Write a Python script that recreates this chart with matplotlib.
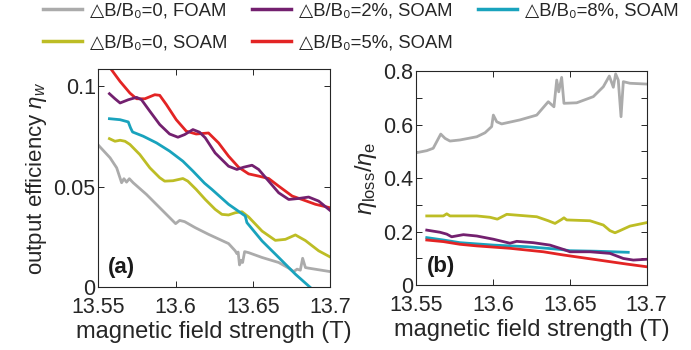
import matplotlib
matplotlib.use("Agg")
import matplotlib.pyplot as plt
from matplotlib.lines import Line2D
from matplotlib.ticker import MultipleLocator

plt.rcParams['font.family'] = ['Liberation Sans', 'DejaVu Sans']
plt.rcParams['mathtext.fontset'] = 'custom'
plt.rcParams['mathtext.rm'] = 'Liberation Sans'
plt.rcParams['mathtext.it'] = 'Liberation Sans:italic'
plt.rcParams['mathtext.bf'] = 'Liberation Sans:bold'

labels = ['△B/B₀=0, FOAM', '△B/B₀=2%, SOAM', '△B/B₀=8%, SOAM',
          '△B/B₀=0, SOAM', '△B/B₀=5%, SOAM']
colors = {'foam0': '#ababab', 'soam2': '#73206f', 'soam8': '#19a3bd',
          'soam0': '#bdbd25', 'soam5': '#e32424'}

# ---- panel (a): output efficiency ----
a_foam0_x = [13.55, 13.5575, 13.5618, 13.565, 13.5665, 13.5682, 13.570, 13.5725, 13.5811, 13.5897,
             13.5961, 13.600, 13.6026, 13.6058, 13.6127, 13.6213, 13.6343, 13.6386, 13.6397, 13.6405,
             13.6414, 13.6425, 13.6434, 13.6447, 13.6473, 13.656, 13.6668, 13.6733, 13.6765, 13.6787,
             13.6808, 13.6823, 13.6841, 13.6862, 13.70]
a_foam0_y = [0.0706, 0.0644, 0.0594, 0.052, 0.054, 0.0523, 0.054, 0.052, 0.0462, 0.0396,
             0.0347, 0.0317, 0.0333, 0.0327, 0.0297, 0.0264, 0.0218, 0.0182, 0.0168, 0.0176,
             0.0112, 0.0135, 0.0124, 0.0178, 0.0173, 0.0149, 0.0124, 0.0096, 0.0079, 0.0091,
             0.0086, 0.0145, 0.0099, 0.0096, 0.0079]

a_soam0_x = [13.5571, 13.5607, 13.564, 13.5672, 13.5704, 13.5768, 13.5833, 13.5897, 13.5929, 13.5983,
             13.6047, 13.6079, 13.6133, 13.6192, 13.6256, 13.630, 13.6343, 13.6386, 13.643, 13.6473,
             13.656, 13.6646, 13.6711, 13.6776, 13.6841, 13.6927, 13.70]
a_soam0_y = [0.0739, 0.0726, 0.0731, 0.0726, 0.071, 0.066, 0.0594, 0.0545, 0.0528, 0.0530,
             0.0541, 0.0528, 0.0487, 0.0437, 0.0388, 0.0363, 0.0360, 0.0371, 0.0376, 0.0350,
             0.028, 0.0234, 0.0239, 0.0261, 0.0233, 0.0182, 0.0152]

a_soam8_x = [13.5571, 13.564, 13.5693, 13.5708, 13.5721, 13.579, 13.5876, 13.5961, 13.6047, 13.6112,
             13.6187, 13.6235, 13.6343, 13.6451, 13.6462, 13.656, 13.6668, 13.6776, 13.6873]
a_soam8_y = [0.0838, 0.0833, 0.0822, 0.0792, 0.0772, 0.0751, 0.0718, 0.0677, 0.0627, 0.0578,
             0.0518, 0.0487, 0.0413, 0.0355, 0.0322, 0.0231, 0.0149, 0.0066, 0.0]

a_soam2_x = [13.5571, 13.5607, 13.564, 13.5693, 13.5747, 13.5779, 13.5833, 13.5897, 13.5961, 13.6015,
             13.6058, 13.6112, 13.6155, 13.6192, 13.6256, 13.6343, 13.6397, 13.644, 13.6495, 13.6538,
             13.6603, 13.6668, 13.6733, 13.6798, 13.6862, 13.6927, 13.70]
a_soam2_y = [0.0962, 0.0937, 0.0916, 0.0932, 0.0944, 0.0932, 0.0875, 0.0809, 0.0762, 0.0746,
             0.0759, 0.0784, 0.0771, 0.0743, 0.0668, 0.0602, 0.0586, 0.0597, 0.0607, 0.0586,
             0.0528, 0.047, 0.0437, 0.0442, 0.0449, 0.0429, 0.0383]

a_soam5_x = [13.5571, 13.564, 13.5704, 13.5747, 13.5801, 13.5865, 13.5897, 13.594, 13.6004, 13.6069,
             13.6133, 13.6213, 13.6278, 13.6343, 13.6408, 13.6473, 13.6538, 13.6603, 13.6668, 13.6755,
             13.6819, 13.6906, 13.70]
a_soam5_y = [0.1095, 0.1023, 0.0965, 0.0937, 0.0937, 0.0957, 0.0954, 0.0908, 0.0833, 0.0776,
             0.0762, 0.0767, 0.0718, 0.0652, 0.0597, 0.0564, 0.0553, 0.0541, 0.0503, 0.0454,
             0.0437, 0.0413, 0.0396]

# ---- panel (b): loss ratio ----
b_foam0_x = [13.55, 13.557, 13.5612, 13.5661, 13.5689, 13.5721, 13.5786, 13.5895, 13.5949, 13.5992,
             13.6003, 13.6025, 13.6057, 13.6176, 13.6285, 13.636, 13.6397, 13.6415, 13.6428, 13.6447,
             13.6462, 13.6545, 13.6653, 13.6718, 13.6757, 13.6783, 13.6798, 13.6815, 13.6833, 13.6848,
             13.6891, 13.70]
b_foam0_y = [0.495, 0.503, 0.512, 0.565, 0.549, 0.539, 0.543, 0.555, 0.57, 0.593,
             0.636, 0.611, 0.603, 0.618, 0.636, 0.686, 0.667, 0.767, 0.723, 0.777,
             0.68, 0.682, 0.705, 0.742, 0.782, 0.74, 0.79, 0.767, 0.63, 0.761,
             0.755, 0.752]

b_soam0_x = [13.557, 13.5678, 13.57, 13.5721, 13.5895, 13.5981, 13.6029, 13.609, 13.6176, 13.6285,
             13.636, 13.6404, 13.6447, 13.6462, 13.648, 13.6631, 13.6718, 13.6761, 13.6794, 13.6826,
             13.6891, 13.70]
b_soam0_y = [0.259, 0.259, 0.267, 0.259, 0.259, 0.254, 0.247, 0.265, 0.261, 0.256,
             0.241, 0.231, 0.246, 0.252, 0.244, 0.241, 0.225, 0.204, 0.196, 0.204,
             0.221, 0.234]

b_soam2_x = [13.557, 13.5656, 13.57, 13.5732, 13.5808, 13.5895, 13.6003, 13.6111, 13.6155, 13.6263,
             13.6371, 13.6458, 13.6501, 13.6631, 13.6761, 13.6848, 13.6913, 13.70]
b_soam2_y = [0.206, 0.198, 0.191, 0.181, 0.189, 0.184, 0.172, 0.157, 0.164, 0.159,
             0.150, 0.134, 0.125, 0.125, 0.119, 0.100, 0.094, 0.097]

b_soam8_x = [13.557, 13.5678, 13.5786, 13.6003, 13.622, 13.6436, 13.6501, 13.6675, 13.688]
b_soam8_y = [0.178, 0.169, 0.159, 0.150, 0.144, 0.134, 0.129, 0.127, 0.123]

b_soam5_x = [13.557, 13.5678, 13.5786, 13.5895, 13.6111, 13.6328, 13.6458, 13.6653, 13.687, 13.70]
b_soam5_y = [0.169, 0.163, 0.153, 0.147, 0.138, 0.125, 0.113, 0.097, 0.079, 0.069]

x_ticks = [13.55, 13.6, 13.65, 13.7]
x_ticklabels = ['13.55', '13.6', '13.65', '13.7']
a_yticks = [0, 0.05, 0.1]
a_yticklabels = ['0', '0.05', '0.1']
b_yticks = [0, 0.2, 0.4, 0.6, 0.8]
b_yticklabels = ['0', '0.2', '0.4', '0.6', '0.8']

TXT = '#262626'
LW = 2.0
TFS = 15.5

fig = plt.figure(figsize=(6.91, 3.5), dpi=100)
axa = fig.add_axes([0.1425, 0.1786, 0.335, 0.625])
axb = fig.add_axes([0.602, 0.1851, 0.3339, 0.6114])

def style(ax):
    for s in ax.spines.values():
        s.set_color(TXT)
        s.set_linewidth(0.8)
    ax.tick_params(direction='in', top=True, right=True, length=4, width=0.7,
                   colors=TXT, labelsize=TFS, pad=2)
    ax.tick_params(axis='x', pad=7)
    ax.tick_params(which='minor', direction='in', top=True, right=True, length=4, width=0.7, colors=TXT)
    ax.set_xlim(13.55, 13.7)
    ax.set_xticks(x_ticks)
    ax.set_xticklabels(x_ticklabels)
    ax.set_xlabel('magnetic field strength (T)', fontsize=17, color=TXT, labelpad=2)

axa.plot(a_foam0_x, a_foam0_y, color=colors['foam0'], lw=LW)
axa.plot(a_soam0_x, a_soam0_y, color=colors['soam0'], lw=LW)
axa.plot(a_soam8_x, a_soam8_y, color=colors['soam8'], lw=LW)
axa.plot(a_soam5_x, a_soam5_y, color=colors['soam5'], lw=LW)
axa.plot(a_soam2_x, a_soam2_y, color=colors['soam2'], lw=LW)
style(axa)
axa.set_ylim(0, 0.1086)
axa.set_yticks(a_yticks)
axa.set_yticklabels(a_yticklabels)
axa.set_ylabel(r'output efficiency $\eta_w$', fontsize=16, color=TXT, labelpad=3)
axa.text(0.041, 0.066, '(a)', transform=axa.transAxes, fontsize=16, fontweight='bold', color='#1a1a1a')

axb.plot(b_foam0_x, b_foam0_y, color=colors['foam0'], lw=LW)
axb.plot(b_soam0_x, b_soam0_y, color=colors['soam0'], lw=LW)
axb.plot(b_soam8_x, b_soam8_y, color=colors['soam8'], lw=LW)
axb.plot(b_soam2_x, b_soam2_y, color=colors['soam2'], lw=LW)
axb.plot(b_soam5_x, b_soam5_y, color=colors['soam5'], lw=LW)
style(axb)
axb.set_ylim(0, 0.8)
axb.set_yticks(b_yticks)
axb.set_yticklabels(b_yticklabels)
axb.yaxis.set_minor_locator(MultipleLocator(0.1))
axb.set_ylabel(r'$\eta_{\mathrm{loss}}/\eta_{\mathrm{e}}$', fontsize=17, color=TXT, labelpad=3)
axb.text(0.046, 0.06, '(b)', transform=axb.transAxes, fontsize=16, fontweight='bold', color='#1a1a1a')

keys = ['foam0', 'soam0', 'soam2', 'soam5', 'soam8']
labs = [labels[0], labels[3], labels[1], labels[4], labels[2]]
handles = [Line2D([], [], color=colors[k], lw=LW + 0.5) for k in keys]
fig.legend(handles, labs, ncol=3, loc='upper left', bbox_to_anchor=(0.062, 0.992),
           frameon=False, fontsize=13.3, handlelength=2.1, handletextpad=0.45,
           columnspacing=1.35, labelspacing=0.8, borderpad=0.0, borderaxespad=0.0,
           labelcolor=TXT)

fig.savefig('out.png', dpi=100)
